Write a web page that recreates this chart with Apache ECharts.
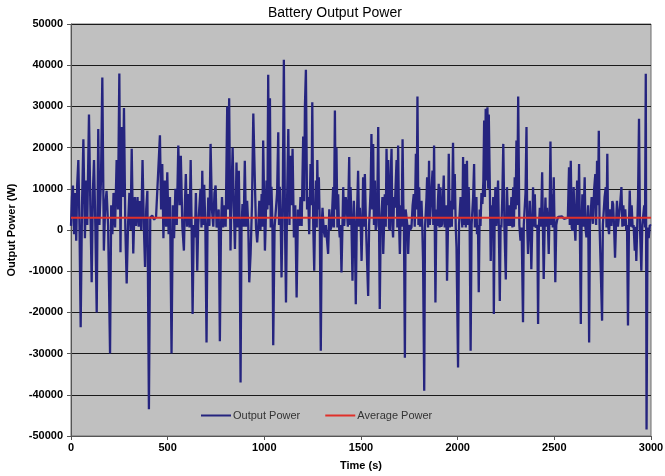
<!DOCTYPE html>
<html>
<head>
<meta charset="utf-8">
<title>Battery Output Power</title>
<script src="https://cdn.jsdelivr.net/npm/echarts@6/dist/echarts.min.js"></script>
<style>
  html, body { margin: 0; padding: 0; background: #ffffff; }
  #chart { width: 665px; height: 476px; }
</style>
</head>
<body>
<div id="chart"></div>
<script>
// Battery output power samples: [time (s), power (W)]
const outputPower = [
  [0,1000],[5,8000],[10,10800],[16,-1000],[22,9000],[27,-2600],[32,11000],[38,17000],[44,800],[50,-23600],
  [57,6000],[64,22000],[72,-2000],[78,12000],[84,1200],[93,28000],[100,6000],[107,-12700],[113,9000],[119,17000],
  [126,800],[133,-20000],[141,24500],[147,1200],[155,12000],[162,37000],[170,-5000],[177,6000],[184,9500],[192,1000],
  [202,-30000],[208,6000],[214,-1000],[220,9000],[228,600],[236,17000],[243,5000],[250,38000],[256,-5400],[262,25000],
  [268,8000],[274,29600],[281,600],[288,-13000],[295,1200],[302,9000],[308,0],[314,19700],[322,-5700],[330,8000],
  [336,1000],[344,8000],[350,800],[357,7000],[363,0],[370,17000],[377,600],[383,-9000],[389,5000],[395,9500],
  [403,-43500],[410,3000],[420,3500],[430,2500],[440,3200],[450,2800],[460,23000],[466,5000],[472,16000],[478,-2000],
  [485,12000],[492,800],[498,14000],[505,-1000],[512,8000],[520,-30000],[527,6000],[533,-2000],[540,10000],[547,1200],
  [555,20500],[562,6000],[568,18000],[576,800],[584,-5000],[589,6000],[594,13600],[600,800],[606,8700],[613,600],
  [619,17000],[624,800],[629,-20400],[635,1200],[641,-1800],[646,9000],[653,-9900],[658,1200],[664,800],[670,10000],
  [675,600],[679,14400],[684,1200],[689,11000],[695,800],[701,-27300],[706,600],[710,7900],[716,1000],[722,20900],
  [729,5000],[736,800],[742,9000],[748,10800],[753,600],[758,600],[764,5000],[770,-27000],[776,1200],[781,8000],
  [787,600],[793,6000],[800,800],[808,30000],[813,5000],[818,32000],[825,-5000],[830,8000],[836,20000],[842,6000],
  [848,-4600],[852,5000],[856,16400],[862,600],[868,14400],[872,1200],[877,-37000],[882,600],[887,6300],[893,800],
  [899,16800],[905,800],[911,7100],[917,1000],[922,-12700],[929,-5800],[936,6000],[943,28300],[951,11800],[957,600],
  [963,-3000],[969,1200],[974,7100],[980,0],[986,8700],[990,800],[994,21700],[1003,-5000],[1007,1200],[1011,12000],
  [1016,5000],[1020,37700],[1024,6000],[1029,32000],[1033,600],[1037,10500],[1042,800],[1046,-28000],[1053,600],[1060,800],
  [1066,9000],[1072,23700],[1076,1200],[1080,10500],[1085,800],[1089,-11500],[1095,6000],[1101,41300],[1107,600],[1112,-17600],
  [1118,8000],[1124,24500],[1130,1200],[1135,18000],[1140,6000],[1146,19700],[1153,-1800],[1160,6000],[1167,-16400],[1174,5000],
  [1181,1000],[1187,8000],[1193,1000],[1201,22700],[1206,7000],[1210,30200],[1215,38900],[1221,5000],[1227,8000],[1232,-1000],
  [1239,16000],[1244,6000],[1248,31000],[1253,1200],[1258,-9900],[1263,5000],[1267,12000],[1271,600],[1274,17000],[1278,5000],
  [1282,12800],[1287,800],[1292,-29300],[1297,1200],[1301,5400],[1307,0],[1313,-1800],[1318,1200],[1324,1000],[1330,-5800],
  [1336,5000],[1342,0],[1348,1000],[1352,6000],[1356,10400],[1360,600],[1365,29000],[1369,5000],[1373,20000],[1378,600],
  [1382,8700],[1386,1000],[1390,-1800],[1394,1200],[1399,-10300],[1404,600],[1408,10400],[1413,1000],[1417,1000],[1421,8000],
  [1425,6300],[1432,800],[1439,17700],[1442,1200],[1446,10400],[1451,800],[1456,-12300],[1460,600],[1463,7100],[1468,0],
  [1473,-18000],[1478,1200],[1485,14400],[1490,800],[1494,5400],[1499,0],[1503,-7500],[1507,1200],[1511,12800],[1515,800],
  [1520,13600],[1526,600],[1532,600],[1537,-16000],[1542,1200],[1546,1000],[1550,10000],[1554,23300],[1558,5000],[1563,20900],
  [1567,1200],[1572,12000],[1576,0],[1580,1000],[1585,9000],[1589,25000],[1597,-19200],[1602,1200],[1606,1000],[1611,8000],
  [1615,-5800],[1619,600],[1623,8700],[1628,800],[1632,19700],[1637,6000],[1641,17000],[1645,600],[1649,-200],[1654,13600],
  [1658,19700],[1662,1200],[1666,-1800],[1671,8000],[1675,5400],[1680,12000],[1684,17000],[1688,600],[1692,20500],[1697,1200],
  [1701,-5800],[1706,6000],[1710,800],[1715,22000],[1719,6000],[1722,1500],[1727,-31000],[1731,5000],[1735,4700],[1740,1000],
  [1744,-5800],[1749,1200],[1754,0],[1761,600],[1767,6000],[1773,8700],[1778,800],[1784,18500],[1788,5000],[1792,32400],
  [1797,1200],[1801,10400],[1805,800],[1808,600],[1813,7100],[1817,800],[1821,-7500],[1827,-39000],[1831,600],[1835,1000],
  [1839,8000],[1842,12800],[1847,600],[1852,16800],[1856,1200],[1859,1000],[1864,9000],[1870,14400],[1874,1200],[1878,20500],
  [1885,-17600],[1890,5000],[1894,1000],[1898,7000],[1902,11200],[1906,600],[1911,10400],[1915,800],[1920,1500],[1924,8000],
  [1928,13200],[1933,600],[1937,1000],[1941,6000],[1945,-12300],[1950,1200],[1954,18500],[1959,600],[1964,7100],[1970,800],
  [1976,21200],[1980,5000],[1985,13600],[1990,800],[1994,-4200],[2002,-33400],[2007,1200],[2011,1000],[2015,8000],[2019,5400],
  [2024,600],[2028,17700],[2032,1200],[2036,16000],[2042,600],[2048,16800],[2052,1200],[2057,10400],[2062,800],[2067,-29300],
  [2072,1200],[2076,1000],[2080,8000],[2085,16000],[2089,600],[2093,4700],[2097,8000],[2100,-1000],[2105,1200],[2109,-15100],
  [2114,5000],[2118,1000],[2123,9000],[2128,6300],[2133,12000],[2137,26600],[2141,8000],[2145,29400],[2150,12000],[2154,29800],
  [2158,10000],[2161,28000],[2166,11800],[2171,-7500],[2176,6000],[2180,1500],[2184,8000],[2187,-20400],[2191,1200],[2195,10400],
  [2200,1000],[2204,1000],[2209,12000],[2213,600],[2218,-17200],[2222,1200],[2226,600],[2231,8000],[2236,20900],[2242,600],
  [2249,-12000],[2255,10400],[2261,1000],[2266,6000],[2272,1000],[2278,8000],[2283,600],[2287,10400],[2291,800],[2295,12800],
  [2300,5000],[2304,21700],[2308,6000],[2313,32400],[2319,1200],[2325,-2600],[2331,600],[2338,-22400],[2342,1200],[2347,1000],
  [2351,9000],[2356,25000],[2360,600],[2364,-5800],[2369,1200],[2373,7100],[2377,1000],[2381,-9500],[2386,1200],[2390,10400],
  [2394,800],[2399,8700],[2403,600],[2407,600],[2412,1200],[2416,-22800],[2420,600],[2425,5400],[2431,800],[2437,14000],
  [2441,600],[2445,-11900],[2450,1200],[2454,7900],[2458,800],[2462,5400],[2467,1000],[2471,-5800],[2476,6000],[2480,21500],
  [2484,1200],[2488,8700],[2492,600],[2497,12800],[2501,600],[2505,-12700],[2510,1200],[2514,2300],[2520,3200],[2530,2800],
  [2540,3300],[2550,2700],[2560,3100],[2570,3000],[2576,15200],[2580,1200],[2585,16800],[2590,600],[2594,-200],[2600,10400],
  [2605,600],[2609,-2600],[2614,6000],[2618,12000],[2623,1200],[2628,16000],[2632,600],[2637,-22800],[2641,1200],[2645,8700],
  [2650,800],[2657,12800],[2661,600],[2666,-1800],[2670,1200],[2675,6000],[2680,-27300],[2684,600],[2688,1000],[2693,8000],
  [2700,1500],[2706,10000],[2712,13600],[2716,1200],[2721,16800],[2726,6000],[2730,24100],[2734,1200],[2738,1000],[2747,-22000],
  [2751,1200],[2755,1000],[2760,8000],[2766,10400],[2770,600],[2774,18500],[2778,1200],[2783,-1000],[2789,5000],[2795,1000],
  [2800,7000],[2804,6300],[2809,800],[2814,-6700],[2819,1200],[2824,7100],[2829,800],[2835,1000],[2840,6000],[2847,10400],
  [2852,800],[2857,6000],[2862,1000],[2867,5000],[2872,0],[2876,1200],[2881,-23200],[2886,1200],[2890,9600],[2895,800],
  [2900,6000],[2905,600],[2910,1200],[2916,-5000],[2920,800],[2924,-7500],[2929,1200],[2933,8000],[2938,27000],[2943,600],
  [2950,-9900],[2955,1200],[2960,800],[2965,6000],[2969,600],[2973,37900],[2977,-48400],[2982,600],[2988,-2000],[2994,1200],
  [3000,1000]
];

// Mean output power over the whole run (W)
const averagePower = 3000;
const averageLine = [[0, averagePower], [3000, averagePower]];

// Axis ranges and tick spacing
const timeTicks = { min: 0, max: 3000, interval: 500 };
const powerTicks = { min: -50000, max: 50000, interval: 10000 };

const chart = echarts.init(document.getElementById('chart'), null, { renderer: 'canvas' });

const fontFamily = 'Liberation Sans, Arial, sans-serif';
const tickFont = { fontFamily: fontFamily, fontSize: 11, fontWeight: 'bold', color: '#000' };
const plainNumber = function (v) { return String(v); };

chart.setOption({
  animation: false,
  backgroundColor: '#ffffff',
  title: {
    text: 'Battery Output Power',
    left: 263,
    top: 1,
    textStyle: { fontFamily: fontFamily, fontSize: 14, fontWeight: 'normal', color: '#000' }
  },
  legend: {
    left: 196,
    top: 405,
    itemWidth: 30,
    itemHeight: 2,
    itemGap: 25,
    icon: 'rect',
    lineStyle: { width: 0 },
    textStyle: { fontFamily: fontFamily, fontSize: 11, color: '#333', padding: [0, 0, 0, -3] },
    data: ['Output Power', 'Average Power']
  },
  grid: {
    left: 71,
    right: 14,
    top: 24,
    bottom: 40,
    containLabel: false,
    outerBoundsMode: 'none',
    show: true,
    backgroundColor: '#c0c0c0',
    borderColor: '#6e6e6e',
    borderWidth: 1
  },
  xAxis: {
    type: 'value',
    min: timeTicks.min,
    max: timeTicks.max,
    interval: timeTicks.interval,
    name: 'Time (s)',
    nameLocation: 'middle',
    nameGap: 24,
    nameTextStyle: { fontFamily: fontFamily, fontSize: 11, fontWeight: 'bold', color: '#000' },
    axisLine: { onZero: false, lineStyle: { color: '#555' } },
    axisTick: { show: true, length: 4, lineStyle: { color: '#555' } },
    axisLabel: Object.assign({ margin: 6, formatter: plainNumber }, tickFont),
    splitLine: { show: false }
  },
  yAxis: {
    type: 'value',
    min: powerTicks.min,
    max: powerTicks.max,
    interval: powerTicks.interval,
    name: 'Output Power (W)',
    nameLocation: 'middle',
    nameGap: 52,
    nameTextStyle: { fontFamily: fontFamily, fontSize: 11, fontWeight: 'bold', color: '#000' },
    axisLine: { show: true, lineStyle: { color: '#555' } },
    axisTick: { show: true, length: 4, lineStyle: { color: '#555' } },
    axisLabel: Object.assign({ margin: 8, formatter: plainNumber }, tickFont),
    splitLine: { show: true, lineStyle: { color: '#1a1a1a', width: 1 } }
  },
  series: [
    {
      name: 'Output Power',
      type: 'line',
      data: outputPower,
      showSymbol: false,
      symbol: 'none',
      sampling: null,
      lineStyle: { color: '#25247f', width: 2.3, join: 'bevel' },
      itemStyle: { color: '#25247f' },
      z: 2
    },
    {
      name: 'Average Power',
      type: 'line',
      data: averageLine,
      showSymbol: false,
      symbol: 'none',
      lineStyle: { color: '#e0302a', width: 2 },
      itemStyle: { color: '#e0302a' },
      z: 3
    }
  ]
});
</script>
</body>
</html>
